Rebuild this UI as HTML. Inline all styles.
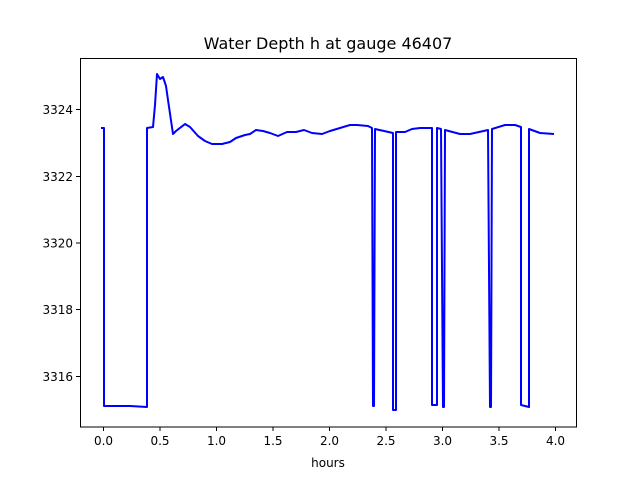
<!DOCTYPE html>
<html><head><style>body{margin:0;background:#fff}svg text{font-family:"DejaVu Sans","Liberation Sans",sans-serif}</style></head><body>
<svg width="640" height="480" viewBox="0 0 640 480" xmlns="http://www.w3.org/2000/svg">
<rect width="640" height="480" fill="#fff"/>
<text x="328" y="49" font-size="16" text-anchor="middle">Water Depth h at gauge 46407</text>
<polyline fill="none" stroke="#0000ff" stroke-width="2" stroke-linejoin="round" points="101,128 104,128 104,406 130,406 147,407 147,128 153,127 155,105 157,74 160,79 163,77 166,86 168,100 173,134 176,131 185,124 190,127 198,136 205,141 212,144 222,144 230,142 236,138 245,135 250,134 256,130 263,131 270,133 278,136 287,132 296,132 304,130 312,133 322,134 330,131 340,128 350,125 357,125 368,126 372,128 373,406 374,406 375,129 393,133 393,410 396,410 396,132 405,132 412,129 420,128 432,128 432,405 437,405 437,128 441,129 443,407 444,407 445,130 460,134 470,134 488,130 490,407 491,407 492,129 505,125 515,125 521,127 521,405 529,407 529,129 540,133 554,134"/>
<rect x="80.5" y="58.5" width="496" height="368.5" fill="none" stroke="#000" stroke-width="1"/>
<g stroke="#000" stroke-width="1">
<line x1="103.5" y1="427" x2="103.5" y2="431"/><line x1="160" y1="427" x2="160" y2="431"/><line x1="216.5" y1="427" x2="216.5" y2="431"/><line x1="273" y1="427" x2="273" y2="431"/><line x1="329.5" y1="427" x2="329.5" y2="431"/><line x1="386" y1="427" x2="386" y2="431"/><line x1="442.5" y1="427" x2="442.5" y2="431"/><line x1="499" y1="427" x2="499" y2="431"/><line x1="555.5" y1="427" x2="555.5" y2="431"/>
<line x1="76" y1="109.5" x2="80" y2="109.5"/><line x1="76" y1="176.5" x2="80" y2="176.5"/><line x1="76" y1="243" x2="80" y2="243"/><line x1="76" y1="309.5" x2="80" y2="309.5"/><line x1="76" y1="376.5" x2="80" y2="376.5"/>
</g>
<g font-size="12" text-anchor="middle">
<text x="103.5" y="445">0.0</text><text x="160" y="445">0.5</text><text x="216.5" y="445">1.0</text><text x="273" y="445">1.5</text><text x="329.5" y="445">2.0</text><text x="386" y="445">2.5</text><text x="442.5" y="445">3.0</text><text x="499" y="445">3.5</text><text x="555.5" y="445">4.0</text>
<text x="328" y="467">hours</text>
</g>
<g font-size="12" text-anchor="end">
<text x="73" y="114">3324</text><text x="73" y="181">3322</text><text x="73" y="247.5">3320</text><text x="73" y="314">3318</text><text x="73" y="381">3316</text>
</g>
</svg>
</body></html>
